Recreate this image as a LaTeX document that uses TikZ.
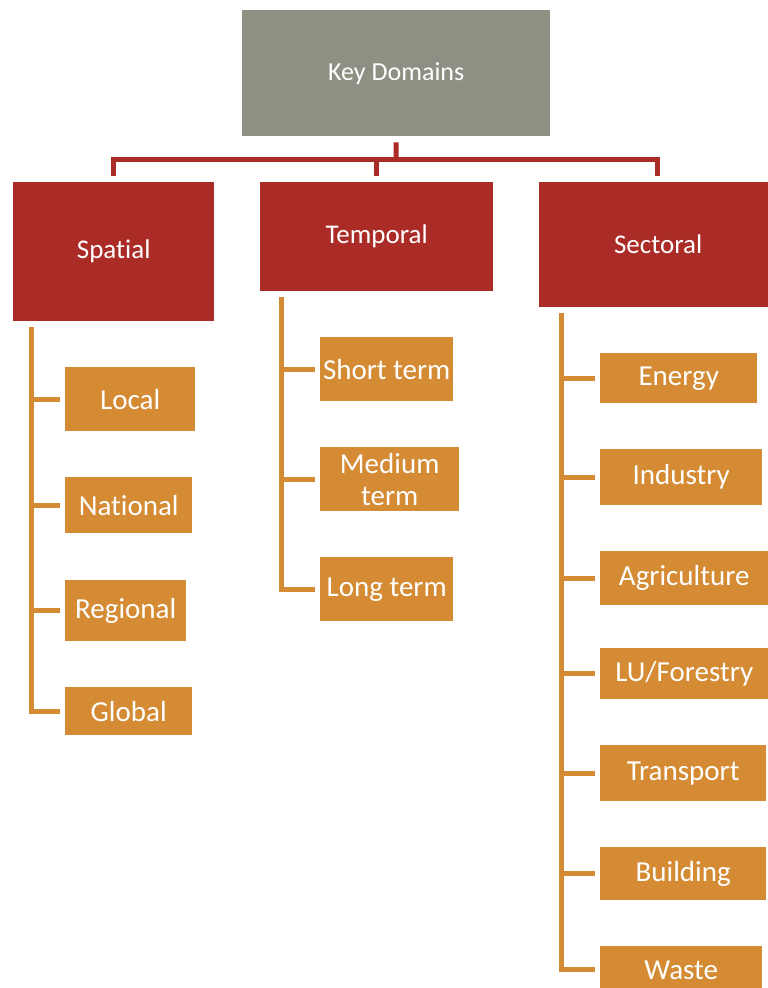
\documentclass[tikz,border=0pt]{standalone}
\usepackage{fontspec}
\setmainfont[Ligatures=NoCommon]{Carlito}
\definecolor{keygray}{HTML}{8F8F84}
\definecolor{domred}{HTML}{AB2B27}
\definecolor{itemorange}{HTML}{D58B33}
\tikzset{
	keybox/.style={fill=keygray,text=white,anchor=north west,inner sep=0pt,font=\fontsize{26}{30}\selectfont},
	dombox/.style={fill=domred,text=white,anchor=north west,inner sep=0pt,font=\fontsize{27}{30}\selectfont},
	itembox/.style={fill=itemorange,text=white,anchor=north west,inner sep=0pt,align=center,font=\fontsize{29}{32}\selectfont},
	redline/.style={draw=domred,line width=5pt},
	twig/.style={draw=itemorange,line width=5pt}
}
\begin{document}
\begin{tikzpicture}[x=1pt,y=-1pt]
	\useasboundingbox (0,0) rectangle (768,988);
	\node[keybox,minimum width=308pt,minimum height=126pt] (key) at (242,10) {Key Domains};
	\node[dombox,minimum width=201pt,minimum height=139pt] (spatial) at (13,182) {Spatial};
	\node[dombox,minimum width=233pt,minimum height=109pt] (temporal) at (260,182) {Temporal};
	\node[dombox,minimum width=229pt,minimum height=125pt] (sectoral) at (539,182) {\hspace*{9pt}Sectoral};
	\coordinate (hub) at (396,159);
	\draw[redline] ([yshift=-6pt]key.south) -- (hub);
	\draw[redline] ([yshift=6pt]spatial.north) |- (hub) -| ([xshift=4pt,yshift=6pt]sectoral.north);
	\draw[redline] (hub -| temporal.north) -- ([yshift=6pt]temporal.north);
	\node[itembox,minimum width=130pt,minimum height=64pt] (local) at (65,367) {Local};
	\node[itembox,minimum width=127pt,minimum height=56pt] (national) at (65,477) {National};
	\node[itembox,minimum width=121pt,minimum height=61pt] (regional) at (65,580) {Regional};
	\node[itembox,minimum width=127pt,minimum height=48pt] (global) at (65,687) {Global};
	\node[itembox,minimum width=133pt,minimum height=64pt] (short) at (320,337) {Short term};
	\node[itembox,minimum width=139pt,minimum height=64pt] (medium) at (320,447) {Medium\\term};
	\node[itembox,minimum width=133pt,minimum height=64pt] (long) at (320,557) {Long term};
	\node[itembox,minimum width=157pt,minimum height=50pt] (energy) at (600,353) {Energy};
	\node[itembox,minimum width=162pt,minimum height=56pt] (industry) at (600,449) {Industry};
	\node[itembox,minimum width=168pt,minimum height=54pt] (agri) at (600,551) {Agriculture};
	\node[itembox,minimum width=168pt,minimum height=51pt] (forestry) at (600,648) {LU/Forestry};
	\node[itembox,minimum width=166pt,minimum height=56pt] (transport) at (600,745) {Transport};
	\node[itembox,minimum width=166pt,minimum height=53pt] (building) at (600,847) {Building};
	\node[itembox,minimum width=162pt,minimum height=48pt,anchor=south west] (waste) at (600,994) {Waste};
	\coordinate (sp) at ([xshift=18pt,yshift=-6pt]spatial.south west);
	\coordinate (tp) at ([xshift=21pt,yshift=-6pt]temporal.south west);
	\coordinate (sc) at ([xshift=22pt,yshift=-6pt]sectoral.south west);
	\draw[twig] (sp) |- ([xshift=-5pt]global.west);
	\draw[twig] (tp) |- ([xshift=-5pt]long.west);
	\draw[twig] (sc) |- ([xshift=-5pt]waste.west);
	\foreach \n in {local,national,regional}
		\draw[twig] (sp |- \n.west) -- ([xshift=-5pt]\n.west);
	\foreach \n in {short,medium}
		\draw[twig] (tp |- \n.west) -- ([xshift=-5pt]\n.west);
	\foreach \n in {energy,industry,agri,forestry,transport,building}
		\draw[twig] (sc |- \n.west) -- ([xshift=-5pt]\n.west);
\end{tikzpicture}
\end{document}
